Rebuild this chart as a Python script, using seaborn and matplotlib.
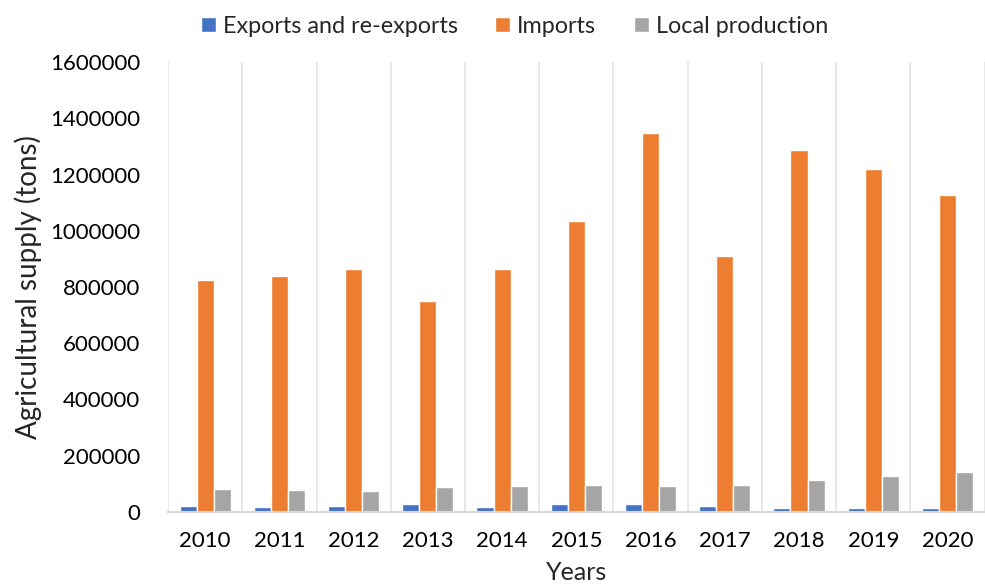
import matplotlib
matplotlib.use("Agg")
import matplotlib.pyplot as plt
import seaborn as sns
import pandas as pd

years = ["2010", "2011", "2012", "2013", "2014", "2015", "2016", "2017", "2018", "2019", "2020"]
exports = [21000, 17000, 21000, 29000, 17000, 29000, 29000, 21000, 13000, 13000, 13000]
imports = [825000, 839000, 864000, 750000, 864000, 1034000, 1349000, 910000, 1289000, 1221000, 1126000]
local = [82000, 78000, 73000, 87000, 91000, 95000, 91000, 95000, 112000, 126000, 143000]
series = ["Exports and re-exports", "Imports", "Local production"]
colors = ["#4472C4", "#ED7D31", "#A5A5A5"]

df = pd.DataFrame({
    "Year": years * 3,
    "Value": exports + imports + local,
    "Series": [series[0]] * len(years) + [series[1]] * len(years) + [series[2]] * len(years),
})

sns.set_theme(style="white")
plt.rcParams["font.family"] = ["Lato", "DejaVu Sans"]

fig = plt.figure(figsize=(9.85, 5.87), dpi=100)
ax = fig.add_axes([0.1706, 0.128, 0.829, 0.766])

sns.barplot(data=df, x="Year", y="Value", hue="Series", palette=colors, saturation=1,
            width=0.69, edgecolor="white", linewidth=1.0, ax=ax, legend=True)

ax.set_xlim(-0.5, len(years) - 0.5)
ax.set_ylim(0, 1600000)
ax.set_yticks(range(0, 1600001, 200000))
ax.set_yticklabels([str(v) for v in range(0, 1600001, 200000)])
for i in range(len(years) + 1):
    ax.axvline(i - 0.5, color="#e4e4e4", lw=1.2, zorder=0)

for s in ["left", "right", "top"]:
    ax.spines[s].set_visible(False)
ax.spines["bottom"].set_color("#d9d9d9")
ax.spines["bottom"].set_linewidth(1.5)

ax.tick_params(axis="both", length=0, labelsize=16, colors="black")
ax.tick_params(axis="y", pad=20)
ax.tick_params(axis="x", pad=14)
ax.set_xlabel("Years", fontsize=18, labelpad=7)
ax.set_ylabel("Agricultural supply (tons)", fontsize=20, labelpad=6)

handles, labels = ax.get_legend_handles_labels()
ax.legend(handles, labels, loc="lower center", bbox_to_anchor=(0.424, 1.0), ncol=3,
          frameon=False, fontsize=16.8, handlelength=0.65, handleheight=0.65,
          handletextpad=0.3, columnspacing=1.6, borderaxespad=0.7)

fig.savefig("out.png", dpi=100)
